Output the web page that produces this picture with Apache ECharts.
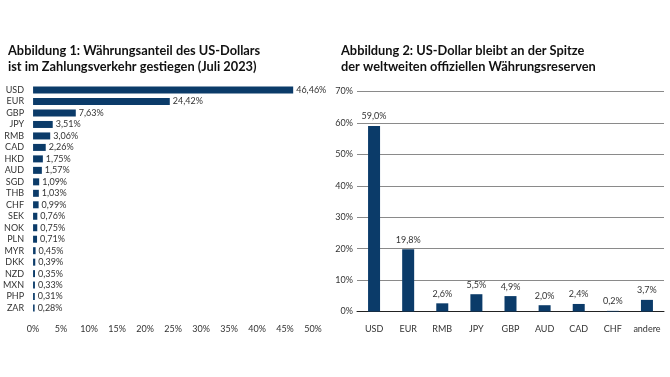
<!DOCTYPE html>
<html>
<head>
<meta charset="utf-8">
<script src="https://cdn.jsdelivr.net/npm/echarts@6/dist/echarts.min.js"></script>
<style>
  html, body { margin: 0; padding: 0; background: #fff; }
  #container { width: 670px; height: 377px; }
</style>
</head>
<body>
<div id="container"></div>
<script>
var myChart = echarts.init(document.getElementById('container'));

// Abbildung 1: Zahlungsverkehr
var payCurrencies = ['USD','EUR','GBP','JPY','RMB','CAD','HKD','AUD','SGD','THB','CHF','SEK','NOK','PLN','MYR','DKK','NZD','MXN','PHP','ZAR'];
var payShares = [46.46, 24.42, 7.63, 3.51, 3.06, 2.26, 1.75, 1.57, 1.09, 1.03, 0.99, 0.76, 0.75, 0.71, 0.45, 0.39, 0.35, 0.33, 0.31, 0.28];

// Abbildung 2: Währungsreserven
var resCurrencies = ['USD','EUR','RMB','JPY','GBP','AUD','CAD','CHF','andere'];
var resShares = [59.0, 19.8, 2.6, 5.5, 4.9, 2.0, 2.4, 0.2, 3.7];

var barColor = '#0b3b69';
var txt = '#333';
var font = 'Lato';

function fmt(v, d) {
  return v.toFixed(d).replace('.', ',') + '%';
}

var option = {
  backgroundColor: '#fff',
  textStyle: { fontFamily: font },
  title: [
    {
      text: 'Abbildung 1: Währungsanteil des US-Dollars\nist im Zahlungsverkehr gestiegen (Juli 2023)',
      left: 3, top: 38,
      textStyle: { fontSize: 12.8, fontWeight: 'bold', color: '#111', lineHeight: 16, fontFamily: font }
    },
    {
      text: 'Abbildung 2: US-Dollar bleibt an der Spitze\nder weltweiten offiziellen Währungsreserven',
      left: 336, top: 38,
      textStyle: { fontSize: 12.8, fontWeight: 'bold', color: '#111', lineHeight: 16, fontFamily: font }
    }
  ],
  grid: [
    { left: 29, width: 284, top: 84.3, height: 229.5 },
    { left: 357, right: 6, top: 91.5, height: 220 }
  ],
  xAxis: [
    {
      gridIndex: 0, type: 'value', min: 0, max: 50, interval: 5,
      axisLine: { show: false }, axisTick: { show: false }, splitLine: { show: false },
      axisLabel: { color: txt, fontSize: 9, margin: 11, formatter: '{value}%' }
    },
    {
      gridIndex: 1, type: 'category', data: resCurrencies,
      axisLine: { lineStyle: { color: '#222', width: 1 } },
      axisTick: { show: false },
      axisLabel: { color: txt, fontSize: 9, margin: 13, interval: 0 }
    }
  ],
  yAxis: [
    {
      gridIndex: 0, type: 'category', data: payCurrencies, inverse: true,
      axisLine: { show: false }, axisTick: { show: false },
      axisLabel: { color: txt, fontSize: 9, margin: 9, interval: 0 }
    },
    {
      gridIndex: 1, type: 'value', min: 0, max: 70, interval: 10,
      axisLine: { show: false }, axisTick: { show: false },
      splitLine: { lineStyle: { color: '#8a8a8a', width: 1 } },
      axisLabel: { color: txt, fontSize: 9, margin: 4, formatter: '{value}%' }
    }
  ],
  series: [
    {
      type: 'bar', xAxisIndex: 0, yAxisIndex: 0,
      data: payShares, barWidth: 7,
      itemStyle: { color: barColor },
      label: {
        show: true, position: 'right', distance: 3,
        color: txt, fontSize: 9,
        formatter: function (p) { return fmt(p.value, 2); }
      }
    },
    {
      type: 'bar', xAxisIndex: 1, yAxisIndex: 1,
      data: resShares, barWidth: 12,
      itemStyle: { color: barColor },
      label: {
        show: true, position: 'top', distance: 5,
        color: txt, fontSize: 9,
        formatter: function (p) { return fmt(p.value, 1); }
      }
    }
  ]
};

myChart.setOption(option);
</script>
</body>
</html>
